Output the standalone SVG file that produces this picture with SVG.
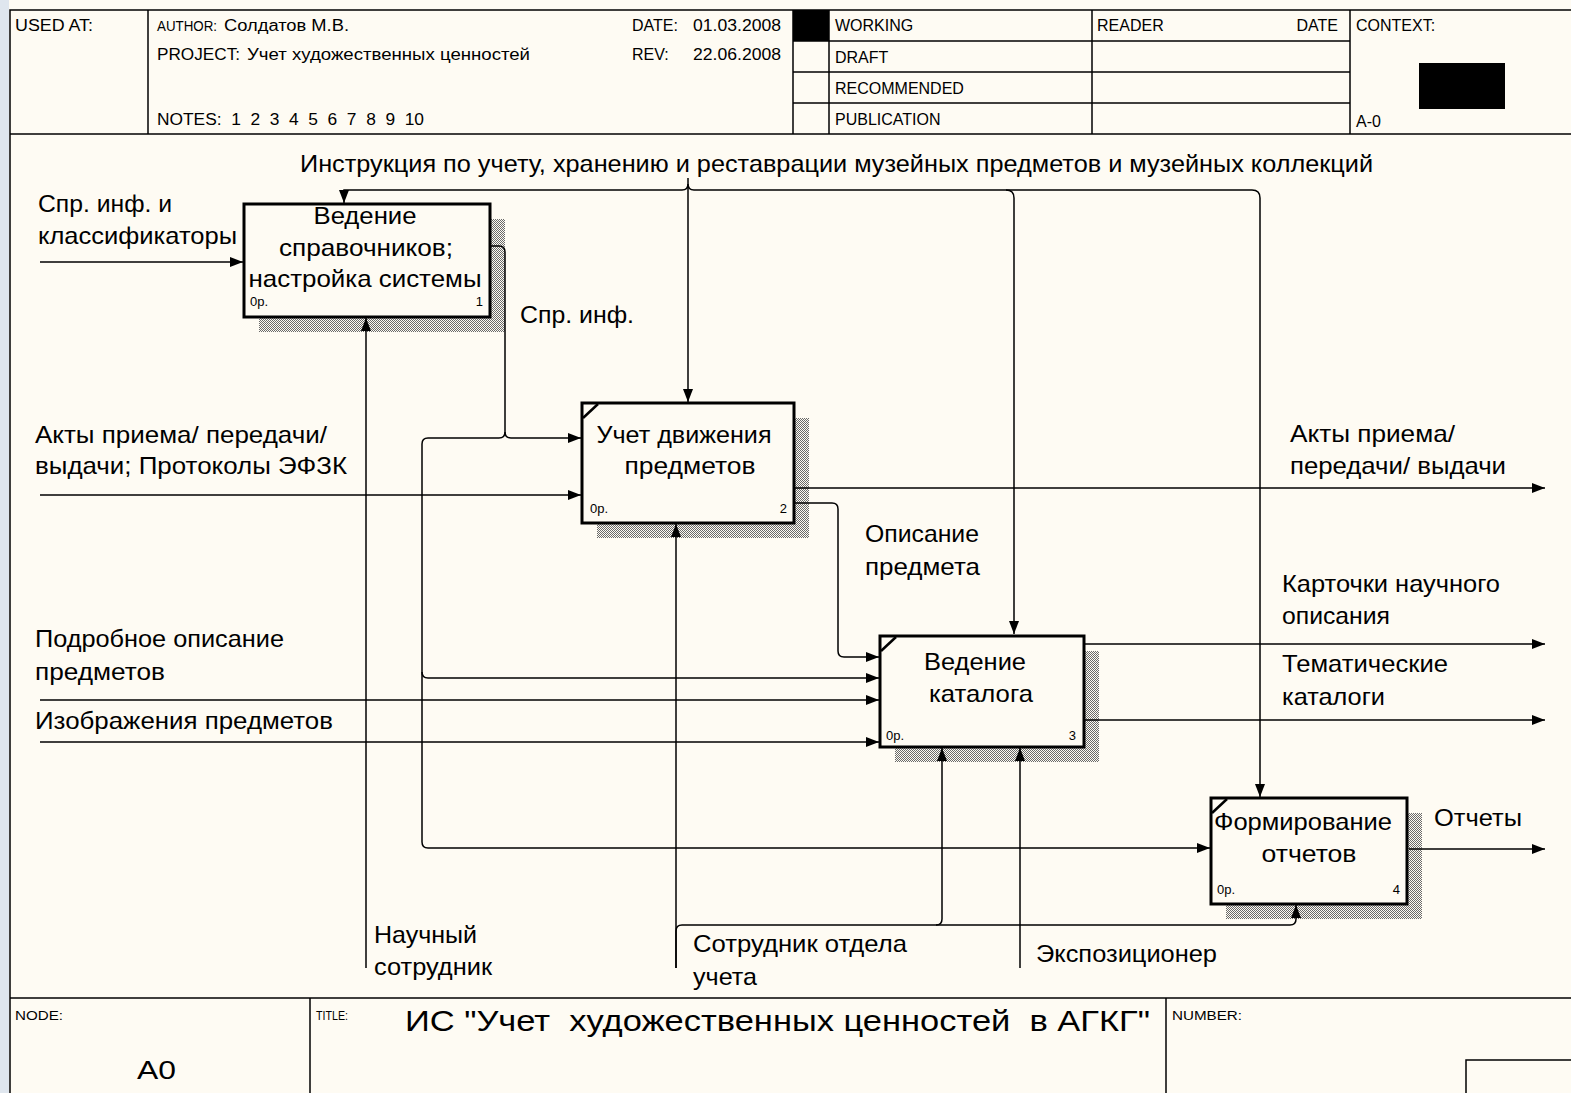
<svg xmlns="http://www.w3.org/2000/svg" width="1571" height="1093" viewBox="0 0 1571 1093">
<defs>
<style>
text{white-space:pre}
.ln{stroke:#000;stroke-width:1.5;fill:none}
.sm{font-family:"Liberation Sans",Arial,sans-serif;font-size:16px;fill:#000}
.tiny{font-family:"Liberation Sans",Arial,sans-serif;font-size:13px;fill:#000}
.lbl{font-family:"Liberation Sans",Arial,sans-serif;font-size:24px;fill:#000}
.bt{font-family:"Liberation Sans",Arial,sans-serif;font-size:24px;fill:#000;text-anchor:middle}
.box{fill:#fefbf3;stroke:#000;stroke-width:3}
.shadow{fill:url(#hatch)}
.corner{stroke:#000;stroke-width:2.5}
#connectors path{fill:none;stroke:#000;stroke-width:1.5}
.arr{marker-end:url(#arrow)}
</style>
<pattern id="hatch" width="2" height="2" patternUnits="userSpaceOnUse">
<rect width="2" height="2" fill="#fefbf3"/>
<rect width="1" height="1" fill="#6a6a6a"/>
<rect x="1" y="1" width="1" height="1" fill="#6a6a6a"/>
</pattern>
<marker id="arrow" markerWidth="13" markerHeight="10" refX="13" refY="5" orient="auto" markerUnits="userSpaceOnUse">
<path d="M0,0 L13,5 L0,10 z" fill="#000"/>
</marker>
</defs>
<rect x="0" y="0" width="1571" height="1093" fill="#fefbf3"/>
<rect x="0" y="0" width="9" height="1093" fill="#dfe6ee"/>

<g id="frame">
<rect x="10" y="10" width="1575" height="1090" class="ln"/>
<line x1="10" y1="134" x2="1571" y2="134" class="ln"/>
<line x1="148" y1="10" x2="148" y2="134" class="ln"/>
<line x1="793" y1="10" x2="793" y2="134" class="ln"/>
<line x1="829" y1="10" x2="829" y2="134" class="ln"/>
<line x1="1092" y1="10" x2="1092" y2="134" class="ln"/>
<line x1="1350" y1="10" x2="1350" y2="134" class="ln"/>
<line x1="793" y1="41" x2="1350" y2="41" class="ln"/>
<line x1="793" y1="72" x2="1350" y2="72" class="ln"/>
<line x1="793" y1="103" x2="1350" y2="103" class="ln"/>
<rect x="793" y="10" width="36" height="31" fill="#000"/>
<rect x="1419" y="63" width="86" height="46" fill="#000"/>
<text x="15" y="31" class="sm" textLength="78" lengthAdjust="spacingAndGlyphs">USED AT:</text>
<text x="157" y="31" class="sm" style="font-size:14px" textLength="60" lengthAdjust="spacingAndGlyphs">AUTHOR:</text>
<text x="224" y="31" class="sm" textLength="125" lengthAdjust="spacingAndGlyphs">Солдатов М.В.</text>
<text x="157" y="60" class="sm" textLength="83" lengthAdjust="spacingAndGlyphs">PROJECT:</text>
<text x="247" y="60" class="sm" textLength="283" lengthAdjust="spacingAndGlyphs">Учет художественных ценностей</text>
<text x="157" y="125" class="sm" textLength="267" lengthAdjust="spacingAndGlyphs">NOTES:  1  2  3  4  5  6  7  8  9  10</text>
<text x="632" y="31" class="sm">DATE:</text>
<text x="693" y="31" class="sm" textLength="88" lengthAdjust="spacingAndGlyphs">01.03.2008</text>
<text x="632" y="60" class="sm">REV:</text>
<text x="693" y="60" class="sm" textLength="88" lengthAdjust="spacingAndGlyphs">22.06.2008</text>
<text x="835" y="31" class="sm">WORKING</text>
<text x="835" y="63" class="sm">DRAFT</text>
<text x="835" y="94" class="sm">RECOMMENDED</text>
<text x="835" y="125" class="sm">PUBLICATION</text>
<text x="1097" y="31" class="sm">READER</text>
<text x="1338" y="31" class="sm" text-anchor="end">DATE</text>
<text x="1356" y="31" class="sm">CONTEXT:</text>
<text x="1356" y="127" class="sm">A-0</text>
<line x1="10" y1="998" x2="1571" y2="998" class="ln"/>
<line x1="310" y1="998" x2="310" y2="1093" class="ln"/>
<line x1="1166" y1="998" x2="1166" y2="1093" class="ln"/>
<polyline points="1466,1093 1466,1060 1571,1060" class="ln"/>
<text x="15" y="1020" class="tiny" textLength="48" lengthAdjust="spacingAndGlyphs">NODE:</text>
<text x="137" y="1079" font-family="Liberation Sans, Arial, sans-serif" font-size="25" textLength="39" lengthAdjust="spacingAndGlyphs">A0</text>
<text x="316" y="1020" class="tiny" textLength="32" lengthAdjust="spacingAndGlyphs">TITLE:</text>
<text x="405" y="1031" font-family="Liberation Sans, Arial, sans-serif" font-size="29" textLength="745" lengthAdjust="spacingAndGlyphs">ИС "Учет  художественных ценностей  в АГКГ"</text>
<text x="1172" y="1020" class="tiny" textLength="70" lengthAdjust="spacingAndGlyphs">NUMBER:</text>
</g>

<g id="box1">
<rect x="259" y="219" width="246" height="113" class="shadow"/>
<rect x="244" y="204" width="246" height="113" class="box"/>
<text x="365" y="224" class="bt" textLength="103" lengthAdjust="spacingAndGlyphs">Ведение</text>
<text x="366" y="256" class="bt" textLength="174" lengthAdjust="spacingAndGlyphs">справочников;</text>
<text x="365" y="287" class="bt" textLength="233" lengthAdjust="spacingAndGlyphs">настройка системы</text>
<text x="250" y="306" class="tiny">0р.</text>
<text x="483" y="306" class="tiny" text-anchor="end">1</text>
</g>

<g id="box2">
<rect x="597" y="418" width="212" height="120" class="shadow"/>
<rect x="582" y="403" width="212" height="120" class="box"/>
<line x1="583" y1="418" x2="598" y2="404" class="corner"/>
<text x="684" y="443" class="bt" textLength="175" lengthAdjust="spacingAndGlyphs">Учет движения</text>
<text x="690" y="474" class="bt" textLength="131" lengthAdjust="spacingAndGlyphs">предметов</text>
<text x="590" y="513" class="tiny">0р.</text>
<text x="787" y="513" class="tiny" text-anchor="end">2</text>
</g>

<g id="box3">
<rect x="895" y="651" width="204" height="111" class="shadow"/>
<rect x="880" y="636" width="204" height="111" class="box"/>
<line x1="881" y1="651" x2="896" y2="637" class="corner"/>
<text x="975" y="670" class="bt" textLength="102" lengthAdjust="spacingAndGlyphs">Ведение</text>
<text x="981" y="702" class="bt" textLength="104" lengthAdjust="spacingAndGlyphs">каталога</text>
<text x="886" y="740" class="tiny">0р.</text>
<text x="1076" y="740" class="tiny" text-anchor="end">3</text>
</g>

<g id="box4">
<rect x="1226" y="813" width="196" height="106" class="shadow"/>
<rect x="1211" y="798" width="196" height="106" class="box"/>
<line x1="1212" y1="813" x2="1227" y2="799" class="corner"/>
<text x="1303" y="830" class="bt" textLength="178" lengthAdjust="spacingAndGlyphs">Формирование</text>
<text x="1309" y="862" class="bt" textLength="95" lengthAdjust="spacingAndGlyphs">отчетов</text>
<text x="1217" y="894" class="tiny">0р.</text>
<text x="1400" y="894" class="tiny" text-anchor="end">4</text>
</g>

<g id="connectors">
<path d="M682,190 H344 V203" class="arr"/>
<path d="M688,178 V402" class="arr"/>
<path d="M682,190 Q688,190 688,184 Q688,190 694,190 H1252 Q1260,190 1260,198 V797" class="arr"/>
<path d="M1006,190 Q1014,190 1014,198 V634" class="arr"/>
<path d="M40,262 H243" class="arr"/>
<path d="M490,246 H499 Q505,246 505,252 V432 Q505,438 511,438 H581" class="arr"/>
<path d="M505,432 Q505,438 499,438 H428 Q422,438 422,444 V842 Q422,848 428,848 H1210" class="arr"/>
<path d="M422,672 Q422,678 428,678 H879" class="arr"/>
<path d="M40,495 H581" class="arr"/>
<path d="M40,700 H879" class="arr"/>
<path d="M40,742 H879" class="arr"/>
<path d="M794,488 H1545" class="arr"/>
<path d="M794,503 H832 Q838,503 838,509 V651 Q838,657 844,657 H879" class="arr"/>
<path d="M1085,644 H1545" class="arr"/>
<path d="M1085,720 H1545" class="arr"/>
<path d="M1409,849 H1545" class="arr"/>
<path d="M366,968 V318" class="arr"/>
<path d="M676,968 V524" class="arr"/>
<path d="M676,968 V931 Q676,925 682,925 H1290 Q1296,925 1296,919 V905" class="arr"/>
<path d="M936,925 Q942,925 942,919 V748" class="arr"/>
<path d="M1020,968 V748" class="arr"/>
</g>

<g id="labels">
<text x="300" y="172" class="lbl" textLength="1073" lengthAdjust="spacingAndGlyphs">Инструкция по учету, хранению и реставрации музейных предметов и музейных коллекций</text>
<text x="38" y="212" class="lbl" textLength="134" lengthAdjust="spacingAndGlyphs">Спр. инф. и</text>
<text x="38" y="244" class="lbl" textLength="199" lengthAdjust="spacingAndGlyphs">классификаторы</text>
<text x="520" y="323" class="lbl" textLength="114" lengthAdjust="spacingAndGlyphs">Спр. инф.</text>
<text x="35" y="443" class="lbl" textLength="292" lengthAdjust="spacingAndGlyphs">Акты приема/ передачи/</text>
<text x="35" y="474" class="lbl" textLength="312" lengthAdjust="spacingAndGlyphs">выдачи; Протоколы ЭФЗК</text>
<text x="1290" y="442" class="lbl" textLength="165" lengthAdjust="spacingAndGlyphs">Акты приема/</text>
<text x="1290" y="474" class="lbl" textLength="216" lengthAdjust="spacingAndGlyphs">передачи/ выдачи</text>
<text x="865" y="542" class="lbl" textLength="114" lengthAdjust="spacingAndGlyphs">Описание</text>
<text x="865" y="575" class="lbl" textLength="115" lengthAdjust="spacingAndGlyphs">предмета</text>
<text x="1282" y="592" class="lbl" textLength="218" lengthAdjust="spacingAndGlyphs">Карточки научного</text>
<text x="1282" y="624" class="lbl" textLength="108" lengthAdjust="spacingAndGlyphs">описания</text>
<text x="1282" y="672" class="lbl" textLength="166" lengthAdjust="spacingAndGlyphs">Тематические</text>
<text x="1282" y="705" class="lbl" textLength="103" lengthAdjust="spacingAndGlyphs">каталоги</text>
<text x="35" y="647" class="lbl" textLength="249" lengthAdjust="spacingAndGlyphs">Подробное описание</text>
<text x="35" y="680" class="lbl" textLength="130" lengthAdjust="spacingAndGlyphs">предметов</text>
<text x="35" y="729" class="lbl" textLength="298" lengthAdjust="spacingAndGlyphs">Изображения предметов</text>
<text x="1434" y="826" class="lbl" textLength="88" lengthAdjust="spacingAndGlyphs">Отчеты</text>
<text x="374" y="943" class="lbl" textLength="103" lengthAdjust="spacingAndGlyphs">Научный</text>
<text x="374" y="975" class="lbl" textLength="118" lengthAdjust="spacingAndGlyphs">сотрудник</text>
<text x="693" y="952" class="lbl" textLength="214" lengthAdjust="spacingAndGlyphs">Сотрудник отдела</text>
<text x="693" y="985" class="lbl" textLength="64" lengthAdjust="spacingAndGlyphs">учета</text>
<text x="1036" y="962" class="lbl" textLength="181" lengthAdjust="spacingAndGlyphs">Экспозиционер</text>
</g>
</svg>
